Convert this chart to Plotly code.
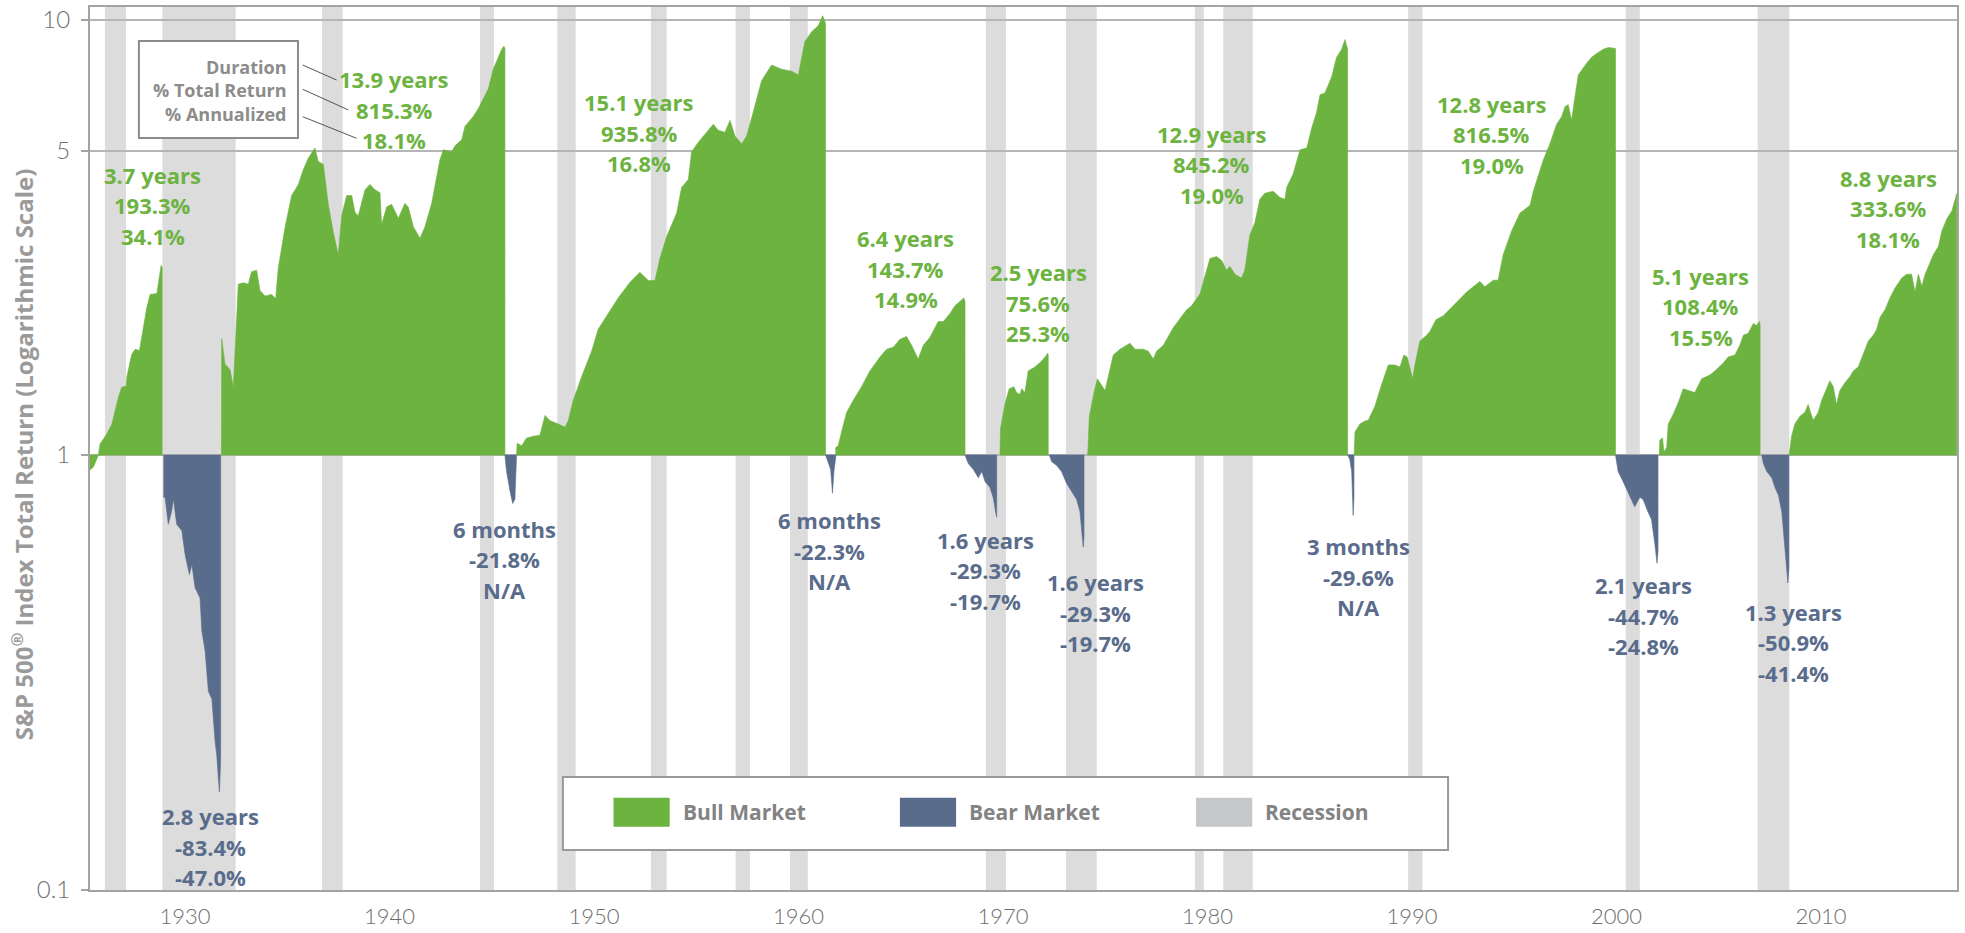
import plotly.graph_objects as go

# ---------------- data (years on the chart's axis, index value relative to start of each market) -------------
bull1_years = [1925.35, 1925.52, 1925.76, 1925.84, 1926.17, 1926.42, 1926.74, 1926.90, 1927.12, 1927.15,
               1927.39, 1927.56, 1927.77, 1927.88, 1928.13, 1928.29, 1928.62, 1928.73, 1928.83, 1928.88]
bull1_values = [0.924, 0.939, 1.0, 1.06, 1.117, 1.178, 1.358, 1.432, 1.44, 1.51,
                1.705, 1.75, 1.74, 1.865, 2.185, 2.34, 2.35, 2.55, 2.73, 2.70]

bear1_years = [1928.94, 1929.02, 1929.18, 1929.35, 1929.43, 1929.59, 1929.84, 1930.0, 1930.21, 1930.33,
               1930.49, 1930.73, 1930.82, 1930.98, 1931.14, 1931.31, 1931.47, 1931.55, 1931.63, 1931.68, 1931.74]
bear1_values = [0.80, 0.80, 0.693, 0.746, 0.792, 0.693, 0.67, 0.591, 0.531, 0.56,
                0.495, 0.469, 0.394, 0.354, 0.286, 0.275, 0.219, 0.204, 0.18, 0.168, 0.20]

bull2_years = [1931.78, 1931.79, 1931.95, 1932.2, 1932.36, 1932.53, 1932.6, 1932.85, 1933.09, 1933.25,
               1933.5, 1933.66, 1933.91, 1934.23, 1934.43, 1934.56, 1934.89, 1935.21, 1935.54, 1935.78,
               1936.02, 1936.35, 1936.51, 1936.76, 1937.0, 1937.25, 1937.49, 1937.66, 1937.9, 1938.15,
               1938.31, 1938.47, 1938.8, 1939.04, 1939.29, 1939.53, 1939.61, 1939.86, 1940.1, 1940.43,
               1940.75, 1940.92, 1941.16, 1941.49, 1941.73, 1942.06, 1942.3, 1942.46, 1942.63, 1943.04,
               1943.2, 1943.53, 1943.69, 1944.09, 1944.34, 1944.67, 1944.83, 1945.07, 1945.32, 1945.48,
               1945.59, 1945.64]
bull2_values = [1.0, 1.85, 1.62, 1.57, 1.43, 2.06, 2.47, 2.49, 2.47, 2.64,
                2.66, 2.39, 2.32, 2.34, 2.29, 2.70, 3.34, 3.95, 4.19, 4.53,
                4.81, 5.08, 4.73, 4.66, 3.77, 3.25, 2.88, 3.55, 3.95, 3.95,
                3.61, 3.55, 4.07, 4.19, 4.07, 4.01, 3.39, 3.72, 3.77, 3.50,
                3.79, 3.71, 3.35, 3.15, 3.35, 3.79, 4.39, 4.77, 5.03, 4.98,
                5.14, 5.31, 5.70, 6.0, 6.26, 6.73, 6.95, 7.71, 8.21, 8.56,
                8.71, 8.6]

bear2_years = [1945.64, 1945.72, 1945.89, 1946.02, 1946.13, 1946.21]
bear2_values = [1.0, 0.916, 0.826, 0.774, 0.791, 1.0]

bull3_years = [1946.21, 1946.24, 1946.46, 1946.7, 1947.03, 1947.35, 1947.6, 1947.84, 1948.25, 1948.58,
               1948.74, 1948.98, 1949.39, 1949.88, 1950.2, 1950.69, 1951.18, 1951.76, 1952.24, 1952.65,
               1952.98, 1953.22, 1953.55, 1954.04, 1954.28, 1954.61, 1954.77, 1955.1, 1955.42, 1955.83,
               1956.07, 1956.4, 1956.65, 1956.89, 1957.22, 1957.46, 1957.78, 1958.19, 1958.68, 1959.17,
               1959.66, 1959.99, 1960.31, 1960.64, 1960.96, 1961.18, 1961.29, 1961.32]
bull3_values = [1.0, 1.065, 1.05, 1.094, 1.105, 1.11, 1.233, 1.20, 1.178, 1.159,
                1.20, 1.335, 1.513, 1.733, 1.945, 2.113, 2.297, 2.496, 2.63, 2.52,
                2.52, 2.83, 3.18, 3.60, 4.12, 4.30, 4.98, 5.24, 5.46, 5.76,
                5.58, 5.52, 5.88, 5.41, 5.19, 5.41, 6.13, 7.25, 7.88, 7.71,
                7.63, 7.48, 8.93, 9.40, 9.70, 10.23, 9.91, 9.8]

bear3_years = [1961.32, 1961.45, 1961.57, 1961.66, 1961.73, 1961.83]
bear3_values = [1.0, 0.965, 0.926, 0.817, 0.916, 1.0]

bull4_years = [1961.8, 1961.94, 1962.1, 1962.35, 1962.67, 1963.08, 1963.49, 1963.98, 1964.31, 1964.63,
               1964.96, 1965.28, 1965.53, 1965.85, 1966.1, 1966.43, 1966.83, 1967.08, 1967.4, 1967.65,
               1967.97, 1968.09, 1968.14]
bull4_values = [1.039, 1.05, 1.129, 1.253, 1.335, 1.436, 1.561, 1.68, 1.751, 1.769,
                1.845, 1.873, 1.788, 1.662, 1.788, 1.865, 2.027, 2.027, 2.113, 2.203,
                2.273, 2.297, 2.25]

bear4_years = [1968.14, 1968.3, 1968.55, 1968.79, 1968.96, 1969.12, 1969.36, 1969.52, 1969.65, 1969.69]
bear4_values = [1.0, 0.956, 0.926, 0.887, 0.916, 0.869, 0.842, 0.798, 0.734, 0.72]

bull5_years = [1969.85, 1969.88, 1970.09, 1970.3, 1970.53, 1970.66, 1970.83, 1970.91, 1971.07, 1971.23,
               1971.56, 1971.89, 1972.13, 1972.18, 1972.21]
bull5_values = [1.0, 1.153, 1.307, 1.42, 1.436, 1.392, 1.377, 1.42, 1.392, 1.561,
                1.594, 1.644, 1.697, 1.715, 1.70]

bear5_years = [1972.26, 1972.38, 1972.62, 1972.86, 1973.11, 1973.35, 1973.6, 1973.76, 1973.92, 1973.96]
bear5_values = [1.0, 0.965, 0.946, 0.916, 0.86, 0.824, 0.79, 0.742, 0.614, 0.65]

bull6_years = [1974.14, 1974.22, 1974.45, 1974.61, 1974.99, 1975.23, 1975.39, 1975.72, 1976.21, 1976.45,
               1976.86, 1977.1, 1977.35, 1977.51, 1977.84, 1978.33, 1978.81, 1978.98, 1979.22, 1979.3,
               1979.63, 1979.87, 1980.12, 1980.44, 1980.69, 1980.93, 1981.09, 1981.34, 1981.66, 1981.82,
               1982.07, 1982.31, 1982.56, 1982.8, 1983.21, 1983.54, 1983.78, 1983.87, 1984.19, 1984.52,
               1984.85, 1985.09, 1985.33, 1985.5, 1985.74, 1986.07, 1986.31, 1986.56, 1986.72, 1986.8,
               1986.85]
bull6_values = [1.0, 1.228, 1.392, 1.497, 1.407, 1.561, 1.697, 1.751, 1.807, 1.751,
                1.751, 1.733, 1.662, 1.733, 1.788, 1.964, 2.113, 2.158, 2.203, 2.228,
                2.345, 2.576, 2.83, 2.859, 2.8, 2.66, 2.716, 2.604, 2.552, 2.66,
                3.206, 3.415, 3.873, 3.998, 4.04, 3.91, 3.873, 4.12, 4.43, 5.03,
                5.08, 5.64, 6.13, 6.73, 6.80, 7.40, 8.21, 8.57, 9.02, 8.74,
                8.6]

bear6_years = [1986.85, 1986.96, 1987.05, 1987.1, 1987.12, 1987.16]
bear6_values = [1.0, 0.975, 0.916, 0.807, 0.726, 0.80]

bull7_years = [1987.17, 1987.21, 1987.45, 1987.7, 1987.86, 1988.18, 1988.51, 1988.84, 1989.16, 1989.41,
               1989.6, 1989.76, 1990.03, 1990.14, 1990.38, 1990.71, 1990.87, 1991.17, 1991.53, 1992.1,
               1992.67, 1993.32, 1993.56, 1993.97, 1994.21, 1994.46, 1994.87, 1995.28, 1995.77, 1995.93,
               1996.17, 1996.42, 1996.74, 1996.83, 1997.07, 1997.32, 1997.48, 1997.64, 1997.8, 1997.97,
               1998.13, 1998.54, 1998.78, 1999.03, 1999.35, 1999.61, 1999.92, 1999.95]
bull7_values = [1.0, 1.129, 1.178, 1.197, 1.202, 1.293, 1.451, 1.611, 1.611, 1.594,
                1.697, 1.68, 1.497, 1.611, 1.826, 1.884, 1.923, 2.047, 2.09, 2.228,
                2.37, 2.507, 2.436, 2.523, 2.523, 2.89, 3.275, 3.60, 3.75, 4.04,
                4.39, 4.77, 5.19, 5.35, 5.76, 6.0, 6.32, 6.39, 5.88, 6.66,
                7.48, 7.96, 8.21, 8.38, 8.57, 8.65, 8.6, 8.6]

bear7_years = [1999.95, 2000.08, 2000.32, 2000.65, 2000.89, 2001.14, 2001.3, 2001.54, 2001.71, 2001.87,
               2001.98, 2002.03]
bear7_values = [1.0, 0.916, 0.869, 0.807, 0.76, 0.80, 0.79, 0.74, 0.711, 0.627,
                0.564, 0.60]

bull8_years = [2002.09, 2002.12, 2002.25, 2002.32, 2002.45, 2002.53, 2002.77, 2003.02, 2003.26, 2003.59,
               2003.83, 2004.16, 2004.57, 2004.81, 2005.22, 2005.46, 2005.79, 2006.03, 2006.2, 2006.44,
               2006.69, 2006.85, 2006.98, 2007.02]
bull8_values = [1.0, 1.083, 1.094, 1.018, 1.039, 1.178, 1.24, 1.32, 1.42, 1.407,
                1.392, 1.497, 1.528, 1.561, 1.627, 1.68, 1.697, 1.788, 1.884, 1.905,
                2.006, 1.985, 2.027, 2.0]

bear8_years = [2007.1, 2007.18, 2007.35, 2007.59, 2007.75, 2007.92, 2008.08, 2008.2, 2008.33, 2008.38,
               2008.43]
bear8_values = [1.0, 0.956, 0.916, 0.887, 0.842, 0.807, 0.742, 0.627, 0.541, 0.508,
                0.55]

bull9_years = [2008.44, 2008.56, 2008.72, 2008.97, 2009.21, 2009.37, 2009.49, 2009.62, 2009.86, 2010.03,
               2010.27, 2010.43, 2010.6, 2010.76, 2010.92, 2011.17, 2011.41, 2011.58, 2011.82, 2012.06,
               2012.31, 2012.55, 2012.72, 2012.88, 2013.13, 2013.37, 2013.62, 2013.95, 2014.19, 2014.43,
               2014.6, 2014.76, 2014.93, 2015.09, 2015.33, 2015.5, 2015.74, 2015.91, 2016.15, 2016.4,
               2016.56, 2016.64]
bull9_values = [1.0, 1.105, 1.178, 1.228, 1.253, 1.307, 1.253, 1.202, 1.253, 1.335,
                1.42, 1.481, 1.436, 1.307, 1.407, 1.466, 1.513, 1.561, 1.594, 1.697,
                1.826, 1.884, 1.944, 2.07, 2.158, 2.297, 2.42, 2.552, 2.604, 2.604,
                2.37, 2.604, 2.445, 2.604, 2.773, 2.89, 3.015, 3.275, 3.49, 3.64,
                3.873, 3.998]

recession_start = [1926.08, 1928.89, 1936.7, 1944.42, 1948.2, 1952.78, 1956.92, 1959.58, 1969.16, 1973.08,
                   1979.38, 1980.77, 1989.81, 2000.45, 2006.9]
recession_end = [1927.11, 1932.47, 1937.71, 1945.1, 1949.1, 1953.55, 1957.62, 1960.45, 1970.14, 1974.58,
                 1979.82, 1982.21, 1990.51, 2001.14, 2008.45]

bull_labels = [["3.7 years", "193.3%", "34.1%"],
               ["13.9 years", "815.3%", "18.1%"],
               ["15.1 years", "935.8%", "16.8%"],
               ["6.4 years", "143.7%", "14.9%"],
               ["2.5 years", "75.6%", "25.3%"],
               ["12.9 years", "845.2%", "19.0%"],
               ["12.8 years", "816.5%", "19.0%"],
               ["5.1 years", "108.4%", "15.5%"],
               ["8.8 years", "333.6%", "18.1%"]]
bear_labels = [["2.8 years", "-83.4%", "-47.0%"],
               ["6 months", "-21.8%", "N/A"],
               ["6 months", "-22.3%", "N/A"],
               ["1.6 years", "-29.3%", "-19.7%"],
               ["1.6 years", "-29.3%", "-19.7%"],
               ["3 months", "-29.6%", "N/A"],
               ["2.1 years", "-44.7%", "-24.8%"],
               ["1.3 years", "-50.9%", "-41.4%"]]

x_tick_years = [1930, 1940, 1950, 1960, 1970, 1980, 1990, 2000, 2010]
y_tick_values = [0.1, 1, 5, 10]
y_tick_text = ["0.1", "1", "5", "10"]
key_lines = ["Duration", "% Total Return", "% Annualized"]
legend_names = ["Bull Market", "Bear Market", "Recession"]

# ---------------- styling -------------
GREEN = "#6cb33f"
BLUE = "#5a6c8c"
REC = "#dcdcdc"
REC_KEY = "#c6c7c9"
TXT_GRAY = "#838383"
FONT = "Open Sans"

fig = go.Figure()

segments = [
    (bull1_years, bull1_values, GREEN), (bear1_years, bear1_values, BLUE),
    (bull2_years, bull2_values, GREEN), (bear2_years, bear2_values, BLUE),
    (bull3_years, bull3_values, GREEN), (bear3_years, bear3_values, BLUE),
    (bull4_years, bull4_values, GREEN), (bear4_years, bear4_values, BLUE),
    (bull5_years, bull5_values, GREEN), (bear5_years, bear5_values, BLUE),
    (bull6_years, bull6_values, GREEN), (bear6_years, bear6_values, BLUE),
    (bull7_years, bull7_values, GREEN), (bear7_years, bear7_values, BLUE),
    (bull8_years, bull8_values, GREEN), (bear8_years, bear8_values, BLUE),
    (bull9_years, bull9_values, GREEN),
]
for xs, ys, col in segments:
    fig.add_trace(go.Scatter(
        x=xs + [xs[-1], xs[0]], y=ys + [1, 1],
        fill="toself", fillcolor=col, mode="lines",
        line=dict(width=0.6, color=col), hoverinfo="skip", showlegend=False))

for s, e in zip(recession_start, recession_end):
    fig.add_shape(type="rect", xref="x", yref="paper", x0=s, x1=e, y0=0, y1=1,
                  fillcolor=REC, line_width=0, layer="below")

# heavy baseline at 1
fig.add_shape(type="line", xref="paper", yref="y", x0=-0.0037, x1=1, y0=0, y1=0,
              line=dict(color="#8a8a8a", width=3))

# labels: (year, log10 position) of first line
bull_pos = [(1928.43, 0.644), (1940.22, 0.864), (1952.2, 0.8115), (1965.25, 0.498), (1971.71, 0.4207),
            (1980.2, 0.739), (1993.89, 0.808), (2004.11, 0.412), (2013.29, 0.637)]
bear_pos = [(1931.22, -0.8306), (1945.61, -0.1694), (1961.5, -0.1494), (1969.13, -0.1947),
            (1974.52, -0.292), (1987.4, -0.2092), (2001.34, -0.2995), (2008.63, -0.3598)]
LINE_GAP = 30.5
for (px, py), lines in zip(bull_pos, bull_labels):
    for i, t in enumerate(lines):
        fig.add_annotation(x=px, y=py, xref="x", yref="y", text=t, showarrow=False,
                           yshift=-LINE_GAP * i, xanchor="center", yanchor="middle",
                           font=dict(family=FONT, size=22, color=GREEN, weight=700))
for (px, py), lines in zip(bear_pos, bear_labels):
    for i, t in enumerate(lines):
        fig.add_annotation(x=px, y=py, xref="x", yref="y", text=t, showarrow=False,
                           yshift=-LINE_GAP * i, xanchor="center", yanchor="middle",
                           font=dict(family=FONT, size=22, color=BLUE, weight=700))

# key box (top-left)
fig.add_shape(type="rect", xref="paper", yref="paper", x0=0.0262, x1=0.1114, y0=0.8516, y1=0.9615,
              fillcolor="white", line=dict(color="#8c8c8c", width=2))
fig.add_annotation(x=0.106, y=0.906, xref="paper", yref="paper", text="<br>".join(key_lines),
                   showarrow=False, xanchor="right", yanchor="middle", align="right",
                   font=dict(family=FONT, size=18, color="#8c8c8c", weight=700))
for (x0, y0, x1, y1) in [(0.1139, 0.9343, 0.1321, 0.9173),
                         (0.1139, 0.9068, 0.1384, 0.8834),
                         (0.1139, 0.8758, 0.1428, 0.8513)]:
    fig.add_shape(type="line", xref="paper", yref="paper", x0=x0, y0=y0, x1=x1, y1=y1,
                  line=dict(color="#555555", width=1))

# custom legend
fig.add_shape(type="rect", xref="paper", yref="paper", x0=0.2533, x1=0.7274, y0=0.0453, y1=0.128,
              fillcolor="white", line=dict(color="#9a9a9a", width=2))
key_colors = [GREEN, BLUE, REC_KEY]
key_x = [0.2804, 0.4338, 0.5924]
for name, col, kx in zip(legend_names, key_colors, key_x):
    fig.add_shape(type="rect", xref="paper", yref="paper", x0=kx, x1=kx + 0.0301, y0=0.0717, y1=0.1045,
                  fillcolor=col, line_width=0)
    fig.add_annotation(x=kx + 0.036, y=0.0883, xref="paper", yref="paper", text=name, showarrow=False,
                       xanchor="left", yanchor="middle",
                       font=dict(family=FONT, size=21, color=TXT_GRAY, weight=700))

# y axis title
fig.add_annotation(x=-0.0361, y=0.493, xref="paper", yref="paper",
                   text="S&P 500<sup>®</sup> Index Total Return (Logarithmic Scale)",
                   textangle=-90, showarrow=False, xanchor="center", yanchor="middle",
                   font=dict(family=FONT, size=24, color="#9a9a9a", weight=700))

fig.update_layout(
    width=1965, height=933,
    margin=dict(l=90, r=8, t=7, b=43, autoexpand=False),
    paper_bgcolor="white", plot_bgcolor="white",
    showlegend=False,
    xaxis=dict(range=[1925.35, 2016.65], tickvals=x_tick_years, ticks="", showgrid=False,
               showline=True, linecolor="#a3a3a3", linewidth=2, mirror=True, zeroline=False,
               ticklabelstandoff=6, automargin=False,
               tickfont=dict(family="Lato", size=22, color="#6e6e6e", weight=300)),
    yaxis=dict(type="log", range=[-1, 1.03], tickvals=y_tick_values, ticktext=y_tick_text,
               ticks="outside", ticklen=7, tickcolor="#a3a3a3", tickwidth=1.5,
               showgrid=True, gridcolor="#b5b5b5", gridwidth=1.5,
               showline=True, linecolor="#a3a3a3", linewidth=2, mirror=True, zeroline=False,
               ticklabelstandoff=6, automargin=False,
               tickfont=dict(family="Lato", size=24, color="#6e6e6e", weight=300)),
)

fig.write_html("out.html", config={"displayModeBar": False},
               post_script="document.body.style.margin='0';document.body.style.overflow='hidden';")
